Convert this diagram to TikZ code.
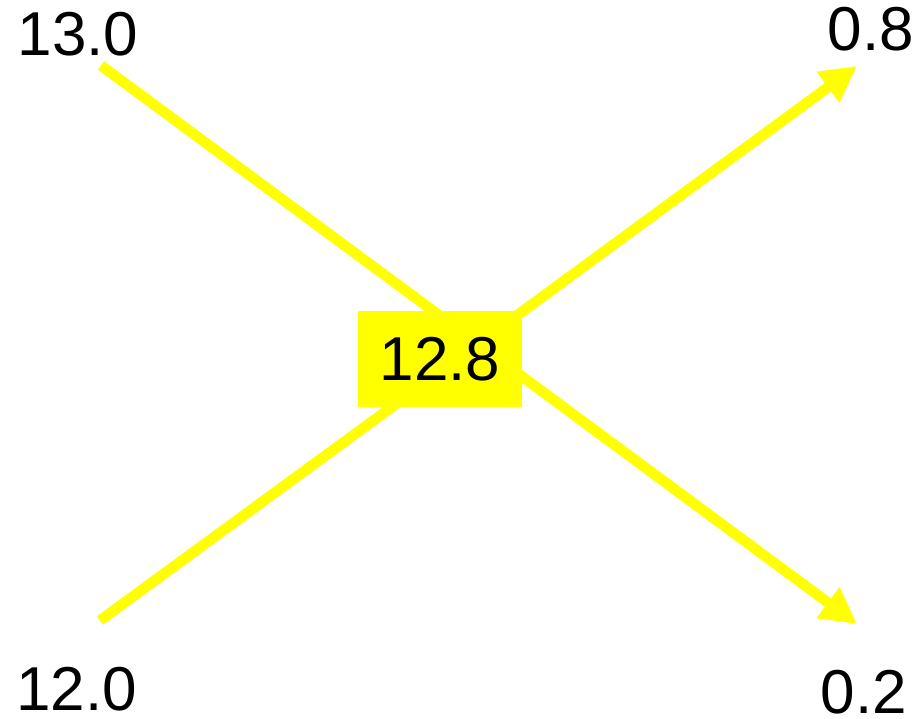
\documentclass[tikz,border=0pt]{standalone}
\usepackage{fontspec}
\setmainfont{Liberation Sans}
\usetikzlibrary{arrows.meta,positioning}
\definecolor{flowyellow}{RGB}{255,255,0}

\begin{document}
\begin{tikzpicture}[x=1pt,y=-1pt,
    flow/.style={flowyellow,line width=10.5pt},
    val/.style={inner sep=0pt,anchor=base,font=\fontsize{62}{74}\selectfont}]
  \useasboundingbox (0,0) rectangle (923,719);
  \path
  (101,65.5) coordinate(in1)
  (100,620.5) coordinate(in2)
  (857,66) coordinate(out1)
  (857,624) coordinate(out2)
  (478,344) coordinate(hub);

  \foreach \i in {1,2} {
    \draw[flow] (in\i) -- (hub);
    \draw[flow,-{Triangle[length=36pt,width=36pt]}] (hub) -- (out\i);
  }

  \node[fill=flowyellow,inner sep=0pt,minimum width=164pt,minimum height=96pt,
    font=\fontsize{62}{74}\selectfont] (mid) at (440,359) {12.8};

  \node[val] (vin1) at (78,56) {13.0};
  \node[val] (vin2) at (76.5,710) {12.0};
  \node[val] (vout1) at (871,50.5) {0.8};
  \node[val] (vout2) at (864,713) {0.2};
\end{tikzpicture}
\end{document}
